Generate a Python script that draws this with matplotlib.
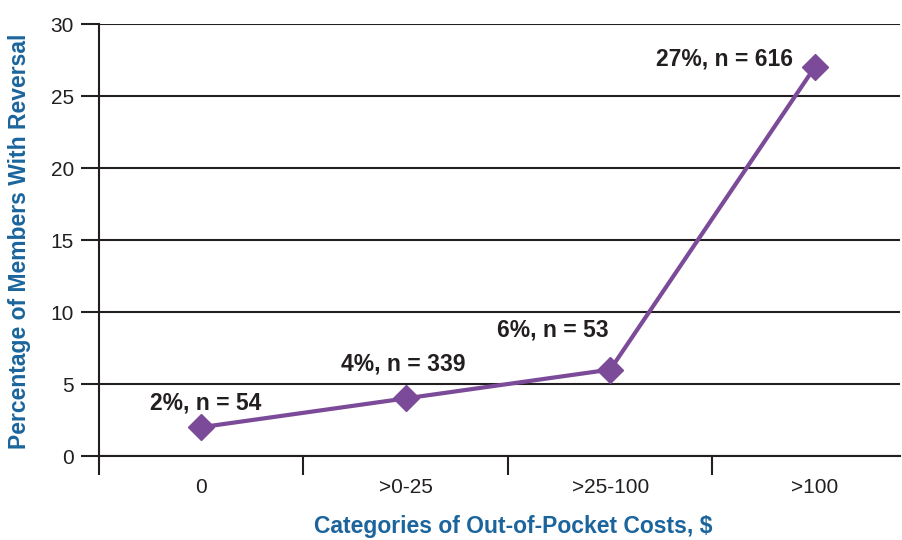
import matplotlib.pyplot as plt

plt.rcParams['font.family'] = ['Liberation Sans', 'DejaVu Sans']

categories = ['0', '>0-25', '>25-100', '>100']
pct = [2, 4, 6, 27]
counts = [54, 339, 53, 616]
# label offsets in pixels from each point
offsets = [(4, 24), (-2, 34), (-57, 40), (-90, 8)]

purple = '#7b4a98'
blue = '#1b659c'
dark = '#231f20'

fig = plt.figure(figsize=(9.02, 5.40), dpi=100)
ax = fig.add_axes([99 / 902, (540 - 456) / 540, 801 / 902, 432 / 540])

x = list(range(len(categories)))
ax.plot(x, pct, color=purple, linewidth=3, marker='D', markersize=13, zorder=3)

for i in x:
    ax.annotate(f'{pct[i]}%, n = {counts[i]}', (x[i], pct[i]), xytext=offsets[i],
                textcoords='offset pixels', ha='center', va='center',
                fontsize=16.5, fontweight='bold', color=dark)

ax.set_xlim(-0.5, 3.417)
ax.set_ylim(0, 30)
ax.set_yticks(range(0, 31, 5))
ax.yaxis.grid(True, color=dark, linewidth=1.5)
ax.set_axisbelow(True)

ax.set_xticks([-0.5, 0.5, 1.5, 2.5])
ax.set_xticklabels([])
ax.set_xticks(x, minor=True)
ax.set_xticklabels(categories, minor=True)
ax.tick_params(axis='x', which='major', length=14, width=1.5, color=dark, direction='out')
ax.tick_params(axis='x', which='minor', length=0, pad=23, labelsize=15, labelcolor=dark)
ax.tick_params(axis='y', length=13, width=1.5, color=dark, pad=5, labelsize=15, labelcolor=dark)
for lbl in ax.get_xticklabels(minor=True):
    lbl.set_va('center')

for s in ['top', 'right']:
    ax.spines[s].set_visible(False)
ax.spines['left'].set_color(dark)
ax.spines['left'].set_linewidth(1.5)
ax.spines['bottom'].set_color(dark)
ax.spines['bottom'].set_linewidth(1.5)

ax.set_ylabel('Percentage of Members With Reversal', color=blue, fontsize=16.5,
              fontweight='bold')
ax.yaxis.set_label_coords(-(99 - 20) / 801, (456 - 241) / 432)
ax.yaxis.label.set_va('center')
ax.set_xlabel('Categories of Out-of-Pocket Costs, $', color=blue, fontsize=16.5,
              fontweight='bold')
ax.xaxis.set_label_coords((513 - 99) / 801, -(526 - 456) / 432)
ax.xaxis.label.set_va('center')

fig.savefig('out.png', dpi=100)
